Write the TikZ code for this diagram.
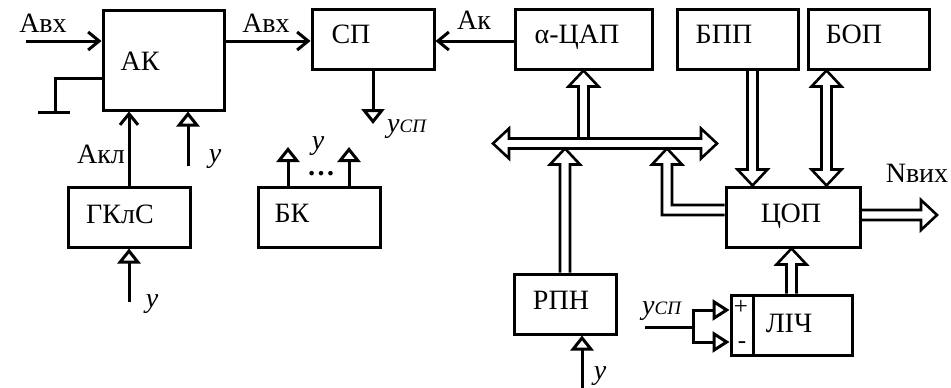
\documentclass[tikz,border=0pt]{standalone}
\usepackage{fontspec}
\setmainfont{Liberation Serif}
\usetikzlibrary{arrows.meta,calc}

% hollow (double-line) arrow: shaft from #1, head at #2
\newcommand\fatarrow[2]{%
  \coordinate (fab) at ($#2!16pt!#1$);
  \draw[fat] ($#1!5pt!90:#2$) -- ($(fab)!5pt!90:#2$) -- ($(fab)!15pt!90:#2$) -- #2
     -- ($(fab)!15pt!-90:#2$) -- ($(fab)!5pt!-90:#2$) -- ($#1!5pt!-90:#2$);
}
% hollow arrow with heads at both ends
\newcommand\fatboth[2]{%
  \coordinate (fba) at ($#1!16pt!#2$);
  \coordinate (fbb) at ($#2!16pt!#1$);
  \draw[fat] #1 -- ($(fba)!15pt!90:#2$) -- ($(fba)!5pt!90:#2$)
     -- ($(fbb)!5pt!-90:#1$) -- ($(fbb)!15pt!-90:#1$) -- #2
     -- ($(fbb)!15pt!90:#1$) -- ($(fbb)!5pt!90:#1$)
     -- ($(fba)!5pt!-90:#2$) -- ($(fba)!15pt!-90:#2$) -- cycle;
}

\begin{document}
\begin{tikzpicture}[x=1pt,y=-1pt,
  box/.style={draw, line width=3pt, inner sep=0pt, minimum height=60pt},
  wire/.style={line width=3pt},
  fat/.style={line width=2.6pt, line join=miter},
  lbl/.style={inner sep=0pt, anchor=base, font=\fontsize{28}{30}\selectfont},
  ital/.style={lbl, font=\fontsize{28}{30}\selectfont\itshape},
  sign/.style={inner sep=0pt, font=\fontsize{25}{25}\selectfont},
  arr/.style={-{Straight Barb[length=11pt,width=18pt]}},
  tri/.style={-{Triangle[open,length=15pt,width=23pt]}},
  trs/.style={-{Triangle[open,length=17pt,width=21pt]}},
]
\useasboundingbox (0,0) rectangle (951,388);

% blocks
\node[box, minimum width=121pt, minimum height=100pt] (ak) at (163.5,60) {};
\node[box, minimum width=122pt] (sp)   at (373,39) {};
\node[box, minimum width=137pt] (cap)  at (583.5,39) {};
\node[box, minimum width=121pt] (bpp)  at (737.5,39) {};
\node[box, minimum width=121pt] (bop)  at (868.5,39) {};
\node[box, minimum width=122pt] (gkls) at (129,217) {};
\node[box, minimum width=122pt] (bk)   at (319,217) {};
\node[box, minimum width=102pt] (rpn)  at (565,304) {};
\node[box, minimum width=134pt] (cop)  at (793,217) {};
\node[box, minimum width=121pt] (lich) at (791.5,325) {};
\draw[wire] ($(lich.north west)+(24,0)$) -- ($(lich.south west)+(24,0)$);

% block labels
\node[lbl] at (140,70)  {АК};
\node[lbl] at (351,43)  {СП};
\node[lbl] at (577,43)  {α-ЦАП};
\node[lbl] at (724,43)  {БПП};
\node[lbl] at (854,43)  {БОП};
\node[lbl] at (120,223) {ГКлС};
\node[lbl] at (292,222) {БК};
\node[lbl] at (561,309) {РПН};
\node[lbl] at (791,222) {ЦОП};
\node[lbl] at (789,332) {ЛІЧ};
\node[sign] at (741,307) {+};
\node[sign] at (742,345) {-};

% analog signal path
\coordinate (ain) at (26,41);
\draw[wire, arr] (ain) -- (ak.west|-ain);
\node[lbl] at (43,32) {Авх};
\draw[wire, arr] (ak.east|-ain) -- (sp.west|-ain);
\node[lbl] at (266,32) {Авх};
\draw[wire, arr] (cap.west|-ain) -- (sp.east|-ain);
\node[lbl] at (474,30) {Ак};

% ground
\coordinate (gnd) at (55,112);
\draw[wire] (ak.west|-0,78) -| (gnd);
\draw[wire] ($(gnd)+(-17,0)$) -- ($(gnd)+(15,0)$);

% clock generator into AK
\draw[wire, arr] (gkls.north) -- (gkls.north|-ak.south);
\node[lbl] at (101,163) {Акл};
\coordinate (yak) at (188,166);
\draw[wire, tri] (yak) -- (yak|-ak.south);
\node[ital] at (215,162) {у};
\coordinate (ygk) at (129,302);
\draw[wire, tri] (ygk) -- (gkls.south);
\node[ital] at (152,307) {у};

% comparator output
\coordinate (spo) at (373,124);
\draw[wire, tri] (sp.south) -- (spo);
\node[lbl, anchor=base west, font=\fontsize{28}{30}\selectfont\itshape] at (387,132)
  {у{\fontsize{19}{19}\selectfont СП}};

% control block outputs
\coordinate (bk1) at (288,147);
\coordinate (bk2) at (349,147);
\draw[wire, tri] (bk1|-bk.north) -- (bk1);
\draw[wire, tri] (bk2|-bk.north) -- (bk2);
\node[ital] at (318,149) {у};
\node[lbl, font=\fontsize{28}{30}\selectfont\bfseries] at (321,175) {…};

% bus
\coordinate (busL) at (493,143.5);
\coordinate (busR) at (717,143.5);
\fatboth{(busL)}{(busR)}
\coordinate (capb) at ($(cap.south|-busL)+(0,-5)$);
\fatarrow{(capb)}{(cap.south)}
\coordinate (rpnb) at ($(rpn.north|-busL)+(0,5)$);
\fatarrow{(rpn.north)}{(rpnb)}
\coordinate (yrp) at (582,388);
\draw[wire, tri] (yrp) -- (yrp|-rpn.south);
\node[ital] at (600,379) {у};

% feedback from ЦОП to the bus
\coordinate (fbk) at (667,148.5);
\draw[fat] (cop.west|-0,215) -- ($(fbk)+(-5,66.5)$) -- ($(fbk)+(-5,16)$)
  -- ($(fbk)+(-15,16)$) -- (fbk) -- ($(fbk)+(15,16)$) -- ($(fbk)+(5,16)$)
  -- ($(fbk)+(5,56.5)$) -- (cop.west|-0,205);

% program and operand blocks into ЦОП
\coordinate (bp1) at ($(bpp.south west)+(77,0)$);
\fatarrow{(bp1)}{(bp1|-cop.north)}
\coordinate (bo1) at ($(bop.south west)+(20,0)$);
\fatboth{(bo1)}{(bo1|-cop.north)}
\fatarrow{(lich.north)}{(lich.north|-cop.south)}

% output
\coordinate (nout) at (937,215);
\fatarrow{(cop.east|-nout)}{(nout)}
\node[lbl] at (917,182) {Nвих};

% counter inputs
\coordinate (yin) at (645,327);
\coordinate (yj) at (693,327);
\draw[wire] (yin) -- (yj);
\draw[wire, trs] (yj) |- (lich.west|-0,310);
\draw[wire, trs] (yj) |- (lich.west|-0,342);
\node[lbl, anchor=base west, font=\fontsize{28}{30}\selectfont\itshape] at (642,314)
  {у{\fontsize{19}{19}\selectfont СП}};
\end{tikzpicture}
\end{document}
